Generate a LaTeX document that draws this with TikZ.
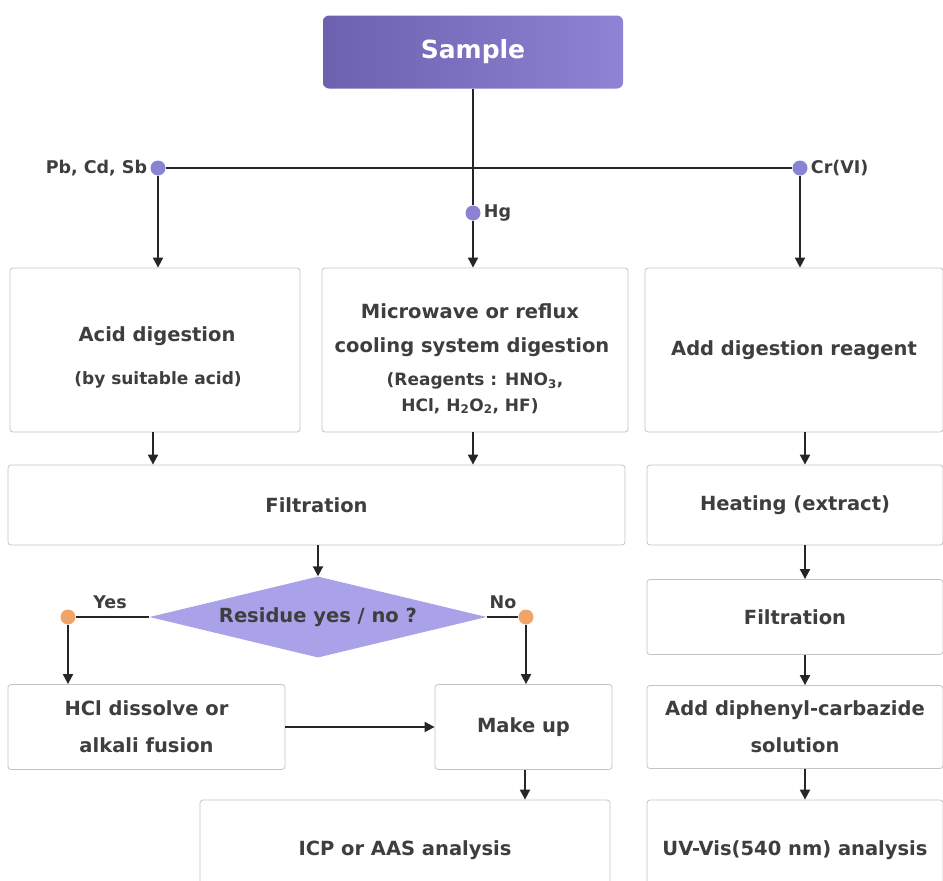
\documentclass[tikz,border=0pt]{standalone}
\usepackage{fontspec}
\setmainfont{DejaVu Sans}
\usetikzlibrary{arrows.meta,shapes.geometric}
\definecolor{txt}{HTML}{3E3E3E}
\definecolor{boxline}{HTML}{C4C4C4}
\definecolor{purA}{HTML}{6C61AE}
\definecolor{purB}{HTML}{8E83D4}
\definecolor{lav}{HTML}{A9A2E8}
\definecolor{dotp}{HTML}{8A82D2}
\definecolor{doto}{HTML}{F0A468}
\begin{document}
\begin{tikzpicture}[x=1pt,y=-1pt,
  box/.style={draw=boxline, line width=0.8pt, rounded corners=3pt, fill=white, text=txt,
     font=\bfseries\fontsize{19.5}{37}\selectfont, align=center, inner sep=2pt},
  tx/.style={text=txt, inner sep=1pt, font=\bfseries\fontsize{19.5}{24}\selectfont},
  sb/.style={text=txt, inner sep=1pt, font=\bfseries\fontsize{17}{20}\selectfont},
  conn/.style={draw=black!85, line width=2pt},
  arr/.style={conn, -{Triangle[length=10pt,width=10pt]}},
  pdot/.style={circle, fill=dotp, minimum size=15pt, inner sep=0pt},
  odot/.style={circle, fill=doto, minimum size=15pt, inner sep=0pt},
  lbl/.style={text=txt, font=\bfseries\fontsize{17.5}{20}\selectfont, inner sep=3pt}]
\useasboundingbox (0,0) rectangle (943,881);
\fill[white] (0,0) rectangle (943,881);

% Sample
\node[rounded corners=6pt, left color=purA, right color=purB, text=white,
  font=\bfseries\fontsize{25}{30}\selectfont, minimum width=300, minimum height=73]
  (sample) at (473,52) {Sample};

% dots
\node[pdot] (pb) at (158,168) {};
\node[pdot] (cr) at (800,168) {};
\node[pdot] (hg) at (473,213) {};
\node[lbl, anchor=east] (pblbl) at (pb.west) {Pb, Cd, Sb};
\node[lbl, anchor=west] (crlbl) at (cr.east) {Cr(VI)};
\node[lbl, anchor=west] (hglbl) at (hg.east) {Hg};

% row 1 boxes
\node[box, minimum width=290, minimum height=164] (acid) at (155,350) {};
\node[tx] (acidt1) at (157,336) {Acid digestion};
\node[sb] (acidt2) at (158,380) {(by suitable acid)};
\node[box, minimum width=306, minimum height=164] (micro) at (475,350) {};
\node[tx] (mt1) at (470,311) {Microwave or reflux};
\node[tx] (mt2) at (472,347) {cooling system digestion};
\node[sb] (mt3) at (475,381) {(Reagents : HNO\textsubscript{3},};
\node[sb] (mt4) at (470,406) {HCl, H\textsubscript{2}O\textsubscript{2}, HF)};
\node[box, minimum width=298, minimum height=164] (addd) at (794,350) {Add digestion reagent};

% row 2
\node[box, minimum width=617, minimum height=80] (filt) at (316.5,505) {Filtration};
\node[box, minimum width=296, minimum height=80] (heat) at (795,505) {Heating (extract)};

% diamond
\node[diamond, fill=lav, aspect=4.2, minimum width=337, minimum height=81, inner sep=0pt,
  text=txt, font=\bfseries\fontsize{19.5}{22}\selectfont] (res) at (318,617) {Residue yes / no ?};
\node[odot] (yes) at (68,617) {};
\node[odot] (no) at (526,617) {};
\node[lbl] (yeslbl) at (110,602) {Yes};
\node[lbl] (nolbl) at (503,602) {No};

% right filtration
\node[box, minimum width=296, minimum height=75] (filt2) at (795,617) {Filtration};

% row 3
\node[box, minimum width=277, minimum height=85] (hcl) at (146.5,727) {HCl dissolve or\\ alkali fusion};
\node[box, minimum width=177, minimum height=85] (make) at (523.5,727) {Make up};
\node[box, minimum width=296, minimum height=83] (diph) at (795,727) {Add diphenyl-carbazide\\ solution};

% row 4
\node[box, minimum width=410, minimum height=100] (icp) at (405,850) {ICP or AAS analysis};
\node[box, minimum width=296, minimum height=100] (uv) at (795,850) {UV-Vis(540 nm) analysis};

% connectors
\draw[conn] (sample.south) -- (hg);
\draw[conn] (pb) -- (cr);
\draw[arr] (pb) -- (pb |- acid.north);
\draw[arr] (hg) -- (hg |- micro.north);
\draw[arr] (cr) -- (cr |- addd.north);
\draw[arr] (acid.south -| 153,0) -- (filt.north -| 153,0);
\draw[arr] (micro.south -| 473,0) -- (filt.north -| 473,0);
\draw[arr] (addd.south -| 805,0) -- (heat.north -| 805,0);
\draw[arr] (filt.south -| res.north) -- (res.north);
\draw[conn] (res.west) -- (yes);
\draw[conn] (res.east) -- (no);
\draw[arr] (yes) -- (yes |- hcl.north);
\draw[arr] (no) -- (no |- make.north);
\draw[arr] (hcl.east) -- (make.west);
\draw[arr] (make.south -| 525,0) -- (icp.north -| 525,0);
\draw[arr] (heat.south -| 805,0) -- (filt2.north -| 805,0);
\draw[arr] (filt2.south -| 805,0) -- (diph.north -| 805,0);
\draw[arr] (diph.south -| 805,0) -- (uv.north -| 805,0);
\end{tikzpicture}
\end{document}
